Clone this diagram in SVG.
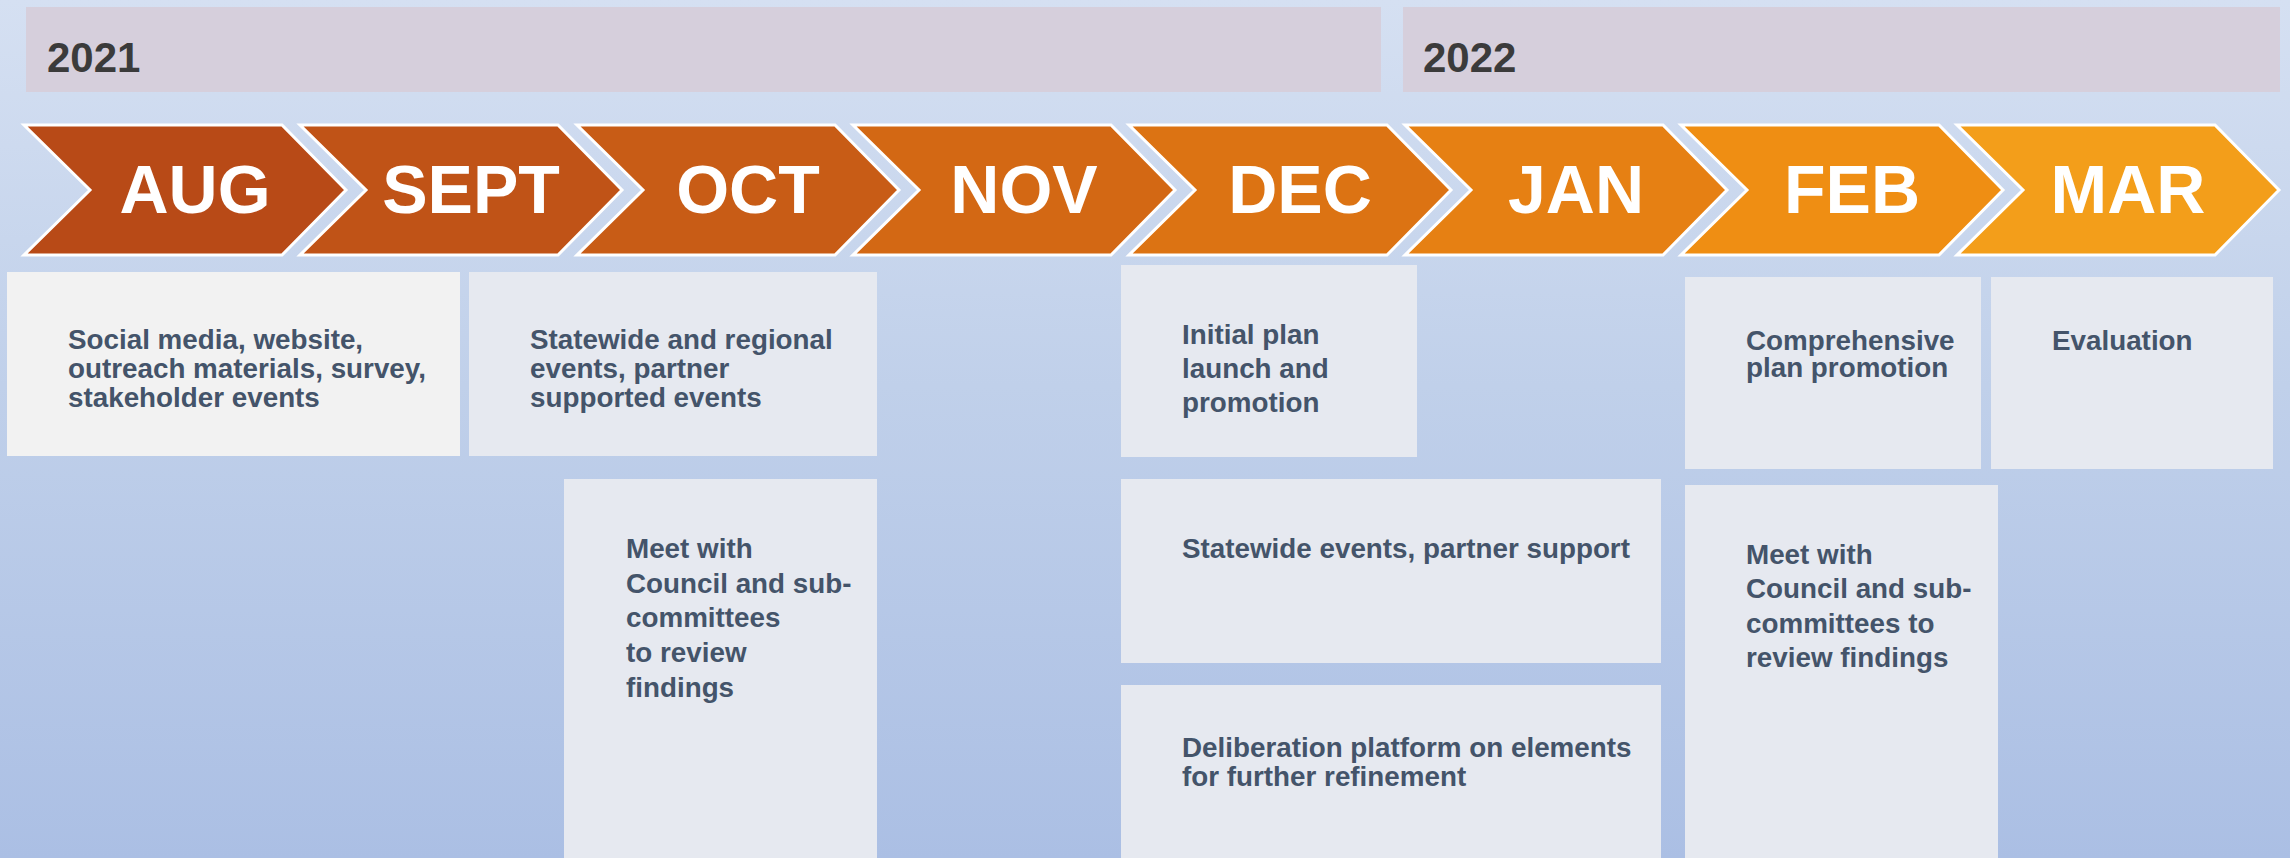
<svg xmlns="http://www.w3.org/2000/svg" width="2290" height="858" viewBox="0 0 2290 858">
  <defs>
    <linearGradient id="bg" x1="0" y1="0" x2="0" y2="1">
      <stop offset="0" stop-color="#D5E0F2"/>
      <stop offset="0.45" stop-color="#C0D0EA"/>
      <stop offset="1" stop-color="#ABBFE4"/>
    </linearGradient>
    <polygon id="chev" points="0,0 258,0 322,65 258,130 0,130 66,65"/>
    <style>
      .year { fill: #D6CFDC; }
      .yeartxt { font-family: "Liberation Sans", Arial, sans-serif; font-weight: bold; font-size: 42px; fill: #3B3B3B; }
      .chev { stroke: #FFFFFF; stroke-width: 3; stroke-linejoin: miter; }
      .month { font-family: "Liberation Sans", Arial, sans-serif; font-weight: bold; font-size: 68px; fill: #FFFFFF; text-anchor: middle; }
      .box { fill: #E6E9F0; }
      .box1 { fill: #F2F2F2; }
      .txt { font-family: "Liberation Sans", Arial, sans-serif; font-weight: bold; font-size: 27.8px; fill: #44546A; }
    </style>
  </defs>

  <rect x="0" y="0" width="2290" height="858" fill="url(#bg)"/>

  <g id="year-2021">
    <rect class="year" x="26" y="7" width="1355" height="85"/>
    <text class="yeartxt" x="47" y="72">2021</text>
  </g>
  <g id="year-2022">
    <rect class="year" x="1403" y="7" width="877" height="85"/>
    <text class="yeartxt" x="1423" y="72">2022</text>
  </g>

  <g id="month-aug">
    <use href="#chev" class="chev" x="24" y="125" fill="#B84A17"/>
    <text class="month" x="195" y="213">AUG</text>
  </g>
  <g id="month-sept">
    <use href="#chev" class="chev" x="300" y="125" fill="#C05317"/>
    <text class="month" x="471" y="213">SEPT</text>
  </g>
  <g id="month-oct">
    <use href="#chev" class="chev" x="577" y="125" fill="#C85C16"/>
    <text class="month" x="748" y="213">OCT</text>
  </g>
  <g id="month-nov">
    <use href="#chev" class="chev" x="853" y="125" fill="#D36814"/>
    <text class="month" x="1024" y="213">NOV</text>
  </g>
  <g id="month-dec">
    <use href="#chev" class="chev" x="1129" y="125" fill="#DC7313"/>
    <text class="month" x="1300" y="213">DEC</text>
  </g>
  <g id="month-jan">
    <use href="#chev" class="chev" x="1405" y="125" fill="#E68013"/>
    <text class="month" x="1576" y="213">JAN</text>
  </g>
  <g id="month-feb">
    <use href="#chev" class="chev" x="1681" y="125" fill="#EF8E13"/>
    <text class="month" x="1852" y="213">FEB</text>
  </g>
  <g id="month-mar">
    <use href="#chev" class="chev" x="1957" y="125" fill="#F39E1A"/>
    <text class="month" x="2128" y="213">MAR</text>
  </g>

  <g id="box-social">
    <rect class="box1" x="7" y="272" width="453" height="184"/>
    <text class="txt"><tspan x="68" y="349">Social media, website,</tspan><tspan x="68" y="378">outreach materials, survey,</tspan><tspan x="68" y="407">stakeholder events</tspan></text>
  </g>
  <g id="box-statewide-regional">
    <rect class="box" x="469" y="272" width="408" height="184"/>
    <text class="txt"><tspan x="530" y="349">Statewide and regional</tspan><tspan x="530" y="378">events, partner</tspan><tspan x="530" y="407">supported events</tspan></text>
  </g>
  <g id="box-meet-2021">
    <rect class="box" x="564" y="479" width="313" height="379"/>
    <text class="txt"><tspan x="626" y="558">Meet with</tspan><tspan x="626" y="593">Council and sub-</tspan><tspan x="626" y="627">committees</tspan><tspan x="626" y="662">to review</tspan><tspan x="626" y="697">findings</tspan></text>
  </g>
  <g id="box-initial-plan">
    <rect class="box" x="1121" y="265" width="296" height="192"/>
    <text class="txt"><tspan x="1182" y="344">Initial plan</tspan><tspan x="1182" y="378">launch and</tspan><tspan x="1182" y="412">promotion</tspan></text>
  </g>
  <g id="box-comprehensive">
    <rect class="box" x="1685" y="277" width="296" height="192"/>
    <text class="txt"><tspan x="1746" y="350">Comprehensive</tspan><tspan x="1746" y="377">plan promotion</tspan></text>
  </g>
  <g id="box-evaluation">
    <rect class="box" x="1991" y="277" width="282" height="192"/>
    <text class="txt" x="2052" y="350">Evaluation</text>
  </g>
  <g id="box-statewide-events">
    <rect class="box" x="1121" y="479" width="540" height="184"/>
    <text class="txt" x="1182" y="558">Statewide events, partner support</text>
  </g>
  <g id="box-deliberation">
    <rect class="box" x="1121" y="685" width="540" height="173"/>
    <text class="txt"><tspan x="1182" y="757">Deliberation platform on elements</tspan><tspan x="1182" y="786">for further refinement</tspan></text>
  </g>
  <g id="box-meet-2022">
    <rect class="box" x="1685" y="485" width="313" height="373"/>
    <text class="txt"><tspan x="1746" y="564">Meet with</tspan><tspan x="1746" y="598">Council and sub-</tspan><tspan x="1746" y="633">committees to</tspan><tspan x="1746" y="667">review findings</tspan></text>
  </g>
</svg>
